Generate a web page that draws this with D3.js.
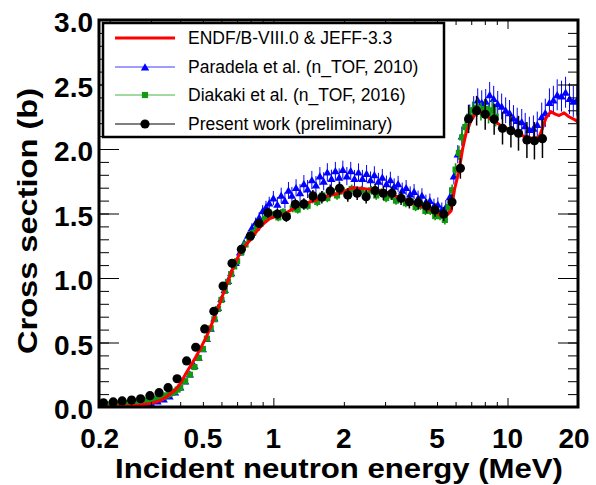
<!DOCTYPE html>
<html>
<head>
<meta charset="utf-8">
<script src="https://cdn.jsdelivr.net/npm/d3@7"></script>
<style>
  body { margin: 0; background: #fff; }
  svg { display: block; font-family: 'Liberation Sans', Arial, Helvetica, sans-serif; }
  .axis path { display: none; }
  .axis line { stroke: #000; stroke-width: 1; }
</style>
</head>
<body>
<div id="chart"></div>
<script>
// evaluated cross section (ENDF/B-VIII.0 & JEFF-3.3)
var evalEnergy = [0.18, 0.2, 0.22, 0.25, 0.27, 0.30, 0.33, 0.35, 0.38, 0.40, 0.426, 0.45, 0.47, 0.49, 0.518,
  0.55, 0.59, 0.62, 0.651, 0.68, 0.718, 0.75, 0.793, 0.83, 0.874, 0.92, 0.964, 1.03, 1.099, 1.17, 1.253,
  1.38, 1.525, 1.7, 1.917, 2.05, 2.2, 2.33, 2.5, 2.75, 3.0, 3.23, 3.5, 3.81, 4.15, 4.49, 4.95, 5.11, 5.28,
  5.46, 5.74, 5.93, 6.22, 6.43, 6.65, 6.98, 7.33, 7.57, 8.0, 8.36, 9.22, 10.17, 11.22, 11.98, 12.6, 13.21,
  13.7, 14.1, 14.6, 15.31, 16.0, 16.61, 17.44, 18.3, 19.24, 20];
var evalXs = [0.0, 0.003, 0.006, 0.01, 0.015, 0.028, 0.05, 0.08, 0.13, 0.18, 0.27, 0.34, 0.40, 0.46, 0.545,
  0.66, 0.80, 0.91, 1.01, 1.10, 1.19, 1.24, 1.29, 1.34, 1.39, 1.43, 1.46, 1.48, 1.49, 1.52, 1.553,
  1.58, 1.605, 1.635, 1.657, 1.68, 1.70, 1.695, 1.69, 1.682, 1.67, 1.643, 1.62, 1.59, 1.565, 1.54, 1.514, 1.49, 1.475,
  1.48, 1.52, 1.68, 1.84, 2.0, 2.12, 2.22, 2.28, 2.29, 2.27, 2.24, 2.19, 2.15, 2.11, 2.095, 2.085, 2.08,
  2.1, 2.16, 2.24, 2.29, 2.27, 2.26, 2.28, 2.25, 2.23, 2.21];

// Paradela et al. (n_TOF, 2010)
var paraEnergy = [0.19, 0.20, 0.21, 0.22, 0.23, 0.24, 0.25, 0.26, 0.28, 0.30, 0.32, 0.34, 0.36, 0.38, 0.40,
  0.42, 0.44, 0.46, 0.48, 0.50, 0.52, 0.54, 0.56, 0.58, 0.60, 0.62, 0.64, 0.66, 0.69, 0.72, 0.75, 0.78,
  0.81, 0.84, 0.87, 0.90, 0.93, 0.96, 1.00, 1.04, 1.08, 1.12, 1.16, 1.20, 1.25, 1.30, 1.35, 1.40, 1.46,
  1.52, 1.58, 1.64, 1.70, 1.77, 1.84, 1.91, 1.98, 2.06, 2.14, 2.22, 2.31, 2.40, 2.50, 2.60, 2.70, 2.81,
  2.92, 3.04, 3.16, 3.28, 3.41, 3.55, 3.69, 3.84, 3.99, 4.15, 4.31, 4.48, 4.66, 4.85, 5.04, 5.24, 5.45,
  5.67, 5.90, 6.13, 6.38, 6.63, 6.90, 7.17, 7.46, 7.76, 8.07, 8.39, 8.73, 9.08, 9.44, 9.82, 10.2, 10.6,
  11.0, 11.5, 11.9, 12.4, 12.9, 13.4, 14.0, 14.5, 15.1, 15.7, 16.3, 17.0, 17.7, 18.4, 19.1, 19.8];
var paraXs = [0.000, 0.002, 0.004, 0.006, 0.008, 0.010, 0.012, 0.015, 0.022, 0.032, 0.046, 0.062, 0.085, 0.115, 0.155,
  0.20, 0.255, 0.32, 0.385, 0.45, 0.53, 0.61, 0.69, 0.77, 0.84, 0.91, 0.98, 1.04, 1.12, 1.20, 1.27, 1.33,
  1.39, 1.43, 1.47, 1.52, 1.55, 1.58, 1.62, 1.57, 1.64, 1.60, 1.68, 1.64, 1.70, 1.66, 1.73, 1.69, 1.76,
  1.72, 1.79, 1.75, 1.82, 1.77, 1.83, 1.78, 1.84, 1.79, 1.83, 1.77, 1.82, 1.77, 1.81, 1.76, 1.80, 1.75,
  1.78, 1.73, 1.76, 1.71, 1.73, 1.68, 1.70, 1.65, 1.67, 1.62, 1.64, 1.59, 1.60, 1.56, 1.57, 1.53, 1.55,
  1.63, 1.79, 1.96, 2.10, 2.18, 2.26, 2.32, 2.38, 2.36, 2.37, 2.42, 2.39, 2.35, 2.33, 2.30, 2.28, 2.24,
  2.22, 2.21, 2.18, 2.15, 2.16, 2.19, 2.25, 2.28, 2.36, 2.38, 2.42, 2.41, 2.44, 2.39, 2.37, 2.38];
var paraErr = [0.004, 0.004, 0.004, 0.004, 0.005, 0.005, 0.005, 0.005, 0.006, 0.006, 0.007, 0.008, 0.008, 0.009, 0.010,
  0.010, 0.012, 0.012, 0.014, 0.015, 0.016, 0.018, 0.018, 0.020, 0.020, 0.022, 0.024, 0.025, 0.026, 0.028, 0.030, 0.032,
  0.035, 0.038, 0.040, 0.045, 0.048, 0.050, 0.055, 0.058, 0.060, 0.062, 0.064, 0.066, 0.066, 0.068, 0.068, 0.070, 0.070,
  0.070, 0.070, 0.070, 0.070, 0.070, 0.070, 0.070, 0.070, 0.070, 0.070, 0.068, 0.068, 0.068, 0.066, 0.066, 0.066, 0.065,
  0.065, 0.064, 0.064, 0.062, 0.062, 0.060, 0.060, 0.060, 0.058, 0.058, 0.056, 0.056, 0.055, 0.055, 0.055, 0.055, 0.055,
  0.060, 0.065, 0.070, 0.075, 0.080, 0.085, 0.090, 0.090, 0.095, 0.095, 0.100, 0.100, 0.100, 0.100, 0.100, 0.100, 0.100,
  0.100, 0.100, 0.100, 0.100, 0.100, 0.100, 0.110, 0.110, 0.110, 0.110, 0.120, 0.120, 0.120, 0.120, 0.120, 0.120];

// Diakaki et al. (n_TOF, 2016)
var diakEnergy = [0.19, 0.20, 0.21, 0.22, 0.23, 0.24, 0.25, 0.26, 0.27, 0.28, 0.29, 0.30, 0.31, 0.32, 0.33,
  0.34, 0.35, 0.36, 0.37, 0.38, 0.39, 0.40, 0.42, 0.44, 0.46, 0.48, 0.50, 0.52, 0.54, 0.56, 0.58, 0.60,
  0.62, 0.64, 0.66, 0.68, 0.70, 0.73, 0.76, 0.79, 0.82, 0.85, 0.88, 0.92, 0.96, 1.00, 1.05, 1.10, 1.15,
  1.21, 1.27, 1.33, 1.40, 1.47, 1.54, 1.62, 1.70, 1.78, 1.87, 1.96, 2.06, 2.16, 2.27, 2.38, 2.50, 2.62,
  2.75, 2.89, 3.03, 3.18, 3.34, 3.50, 3.68, 3.86, 4.05, 4.25, 4.46, 4.68, 4.91, 5.15, 5.40, 5.60, 5.80,
  6.00, 6.20, 6.40, 6.60, 6.85, 7.10, 7.40, 7.70, 8.00, 8.30, 8.60, 8.90];
var diakXs = [0.020, 0.020, 0.020, 0.025, 0.025, 0.030, 0.030, 0.035, 0.040, 0.045, 0.050, 0.055, 0.060, 0.065, 0.070,
  0.080, 0.090, 0.100, 0.110, 0.120, 0.135, 0.150, 0.20, 0.25, 0.31, 0.38, 0.45, 0.53, 0.61, 0.68, 0.76, 0.83,
  0.90, 0.97, 1.03, 1.09, 1.13, 1.20, 1.26, 1.31, 1.35, 1.39, 1.42, 1.46, 1.48, 1.49, 1.47, 1.51, 1.48,
  1.54, 1.53, 1.57, 1.56, 1.61, 1.59, 1.64, 1.62, 1.67, 1.64, 1.68, 1.65, 1.69, 1.66, 1.68, 1.65, 1.68,
  1.64, 1.66, 1.62, 1.64, 1.60, 1.62, 1.58, 1.59, 1.55, 1.56, 1.52, 1.52, 1.48, 1.48, 1.45, 1.55, 1.68,
  1.84, 1.97, 2.09, 2.17, 2.25, 2.30, 2.32, 2.29, 2.31, 2.27, 2.30, 2.25];
var diakErr = [0.006, 0.006, 0.006, 0.006, 0.006, 0.006, 0.006, 0.007, 0.007, 0.007, 0.007, 0.008, 0.008, 0.008, 0.008,
  0.009, 0.009, 0.010, 0.010, 0.010, 0.011, 0.011, 0.012, 0.013, 0.014, 0.015, 0.016, 0.017, 0.018, 0.019, 0.020, 0.020,
  0.021, 0.022, 0.022, 0.023, 0.024, 0.025, 0.026, 0.026, 0.027, 0.028, 0.028, 0.029, 0.030, 0.030, 0.030, 0.030, 0.030,
  0.031, 0.031, 0.032, 0.032, 0.032, 0.033, 0.033, 0.033, 0.034, 0.034, 0.034, 0.034, 0.034, 0.034, 0.034, 0.034, 0.034,
  0.034, 0.034, 0.033, 0.033, 0.033, 0.033, 0.032, 0.032, 0.032, 0.032, 0.032, 0.032, 0.032, 0.033, 0.035, 0.040, 0.045,
  0.050, 0.055, 0.060, 0.062, 0.065, 0.068, 0.070, 0.070, 0.072, 0.072, 0.075, 0.075];

// Present work (preliminary)
var workEnergy = [0.188, 0.207, 0.226, 0.248, 0.271, 0.297, 0.325, 0.355, 0.388, 0.426, 0.466, 0.509, 0.557,
  0.610, 0.666, 0.730, 0.798, 0.868, 0.948, 1.040, 1.136, 1.241, 1.350, 1.475, 1.611, 1.749, 1.917, 2.079,
  2.28, 2.49, 2.72, 2.95, 3.21, 3.51, 3.81, 4.16, 4.51, 4.90, 5.34, 5.79, 6.29, 6.82, 7.38, 8.03, 8.77,
  9.52, 10.34, 11.14, 12.10, 13.03, 14.10];
var workXs = [0.033, 0.039, 0.047, 0.054, 0.064, 0.088, 0.111, 0.150, 0.219, 0.357, 0.463, 0.605, 0.742,
  0.938, 1.114, 1.222, 1.326, 1.424, 1.506, 1.496, 1.475, 1.571, 1.574, 1.636, 1.626, 1.674, 1.695, 1.643,
  1.657, 1.630, 1.677, 1.657, 1.657, 1.618, 1.591, 1.584, 1.558, 1.527, 1.496, 1.589, 1.850, 2.233, 2.297,
  2.269, 2.230, 2.160, 2.142, 2.122, 2.070, 2.064, 2.080];
var workErr = [0.008, 0.008, 0.008, 0.008, 0.009, 0.010, 0.011, 0.012, 0.014, 0.016, 0.018, 0.020, 0.022,
  0.025, 0.028, 0.030, 0.032, 0.035, 0.038, 0.040, 0.040, 0.042, 0.044, 0.046, 0.048, 0.050, 0.050, 0.052,
  0.052, 0.052, 0.052, 0.052, 0.052, 0.052, 0.052, 0.052, 0.052, 0.052, 0.055, 0.060, 0.080, 0.110, 0.115,
  0.120, 0.120, 0.125, 0.130, 0.135, 0.140, 0.145, 0.150];

var xLabelTicks = [0.2, 0.5, 1, 2, 5, 10, 20];
var xMajorTicks = [1, 10];
var xMinorTicks = [0.2, 0.3, 0.4, 0.5, 0.6, 0.7, 0.8, 0.9, 2, 3, 4, 5, 6, 7, 8, 9, 20];
var yMajorTicks = [0, 0.5, 1.0, 1.5, 2.0, 2.5, 3.0];
var yMinorTicks = d3.range(0, 3.01, 0.1);

var legendLabels = ['ENDF/B-VIII.0 & JEFF-3.3', 'Paradela et al. (n_TOF, 2010)',
  'Diakaki et al. (n_TOF, 2016)', 'Present work (preliminary)'];

function zip(e, v, err) {
  return e.map(function(d, i) { return { e: d, v: v[i], err: err ? err[i] : 0 }; });
}

var W = 596, H = 485;
var margin = { top: 20, right: 18, bottom: 78, left: 99 };

var x = d3.scaleLog().domain([0.18, 20]).range([margin.left, W - margin.right]);
var y = d3.scaleLinear().domain([0, 3]).range([H - margin.bottom, margin.top]);

var svg = d3.select('#chart').append('svg')
  .attr('width', W)
  .attr('height', H);

svg.append('defs').append('clipPath')
  .attr('id', 'plotclip')
  .append('rect')
  .attr('x', margin.left)
  .attr('y', margin.top)
  .attr('width', W - margin.left - margin.right)
  .attr('height', H - margin.top - margin.bottom);

var plot = svg.append('g').attr('clip-path', 'url(#plotclip)');

var triangle = d3.symbol().type(d3.symbolTriangle).size(30);
var square = d3.symbol().type(d3.symbolSquare).size(38);

// error bars + markers for one data set
function drawSeries(data, color, barWidth, marker) {
  var g = plot.append('g');
  g.selectAll('line')
    .data(data)
    .enter().append('line')
    .attr('x1', function(d) { return x(d.e); })
    .attr('x2', function(d) { return x(d.e); })
    .attr('y1', function(d) { return y(d.v - d.err); })
    .attr('y2', function(d) { return y(d.v + d.err); })
    .attr('stroke', color)
    .attr('stroke-width', barWidth);
  marker(g.selectAll('.m').data(data).enter());
}

drawSeries(zip(paraEnergy, paraXs, paraErr), '#0000ff', 1, function(sel) {
  sel.append('path')
    .attr('d', triangle)
    .attr('transform', function(d) { return 'translate(' + x(d.e) + ',' + (y(d.v) + 1) + ')'; })
    .attr('fill', '#0000ff');
});

drawSeries(zip(diakEnergy, diakXs, diakErr), '#119911', 1.6, function(sel) {
  sel.append('path')
    .attr('d', square)
    .attr('transform', function(d) { return 'translate(' + x(d.e) + ',' + y(d.v) + ')'; })
    .attr('fill', '#119911');
});

var line = d3.line()
  .x(function(d) { return x(d.e); })
  .y(function(d) { return y(d.v); });

plot.append('path')
  .datum(zip(evalEnergy, evalXs))
  .attr('d', line)
  .attr('fill', 'none')
  .attr('stroke', '#ff0000')
  .attr('stroke-width', 3)
  .attr('stroke-linejoin', 'round');

drawSeries(zip(workEnergy, workXs, workErr), '#000', 1.5, function(sel) {
  sel.append('circle')
    .attr('cx', function(d) { return x(d.e); })
    .attr('cy', function(d) { return y(d.v); })
    .attr('r', 4.6)
    .attr('fill', '#000');
});

// axes: ROOT style ticks pointing inwards on all four sides
var x0 = margin.left, x1 = W - margin.right, y0 = H - margin.bottom, y1 = margin.top;

svg.append('g').attr('class', 'axis').attr('transform', 'translate(0,' + y0 + ')')
  .call(d3.axisBottom(x).tickValues(xMinorTicks).tickSize(-5).tickFormat(''));
svg.append('g').attr('class', 'axis').attr('transform', 'translate(0,' + y0 + ')')
  .call(d3.axisBottom(x).tickValues(xMajorTicks).tickSize(-9).tickFormat(''));
svg.append('g').attr('class', 'axis').attr('transform', 'translate(0,' + y1 + ')')
  .call(d3.axisTop(x).tickValues(xMinorTicks).tickSize(-5).tickFormat(''));
svg.append('g').attr('class', 'axis').attr('transform', 'translate(0,' + y1 + ')')
  .call(d3.axisTop(x).tickValues(xMajorTicks).tickSize(-9).tickFormat(''));

svg.append('g').attr('class', 'axis').attr('transform', 'translate(' + x0 + ',0)')
  .call(d3.axisLeft(y).tickValues(yMinorTicks).tickSize(-10).tickFormat(''));
svg.append('g').attr('class', 'axis').attr('transform', 'translate(' + x0 + ',0)')
  .call(d3.axisLeft(y).tickValues(yMajorTicks).tickSize(-20).tickFormat(''));
svg.append('g').attr('class', 'axis').attr('transform', 'translate(' + x1 + ',0)')
  .call(d3.axisRight(y).tickValues(yMinorTicks).tickSize(-10).tickFormat(''));
svg.append('g').attr('class', 'axis').attr('transform', 'translate(' + x1 + ',0)')
  .call(d3.axisRight(y).tickValues(yMajorTicks).tickSize(-20).tickFormat(''));

svg.append('rect')
  .attr('x', x0).attr('y', y1)
  .attr('width', x1 - x0).attr('height', y0 - y1)
  .attr('fill', 'none')
  .attr('stroke', '#000')
  .attr('stroke-width', 3);

// tick labels
svg.append('g').selectAll('text')
  .data(xLabelTicks)
  .enter().append('text')
  .attr('x', function(d) { return x(d) + (d === 0.2 ? -10 : d === 20 ? -4 : 0); })
  .attr('y', y0 + 41)
  .attr('text-anchor', 'middle')
  .style('font-size', '28px')
  .style('font-weight', 'bold')
  .text(function(d) { return d; });

svg.append('g').selectAll('text')
  .data(yMajorTicks)
  .enter().append('text')
  .attr('x', x0 - 6)
  .attr('y', function(d) { return y(d) + 12; })
  .attr('text-anchor', 'end')
  .style('font-size', '28px')
  .style('font-weight', 'bold')
  .text(function(d) { return d3.format('.1f')(d); });

// axis titles
svg.append('text')
  .attr('x', 563)
  .attr('y', 478)
  .attr('text-anchor', 'end')
  .attr('textLength', 448)
  .attr('lengthAdjust', 'spacingAndGlyphs')
  .style('font-size', '28px')
  .style('font-weight', 'bold')
  .text('Incident neutron energy (MeV)');

svg.append('text')
  .attr('transform', 'translate(37,88) rotate(-90)')
  .attr('text-anchor', 'end')
  .attr('textLength', 266)
  .attr('lengthAdjust', 'spacingAndGlyphs')
  .style('font-size', '28px')
  .style('font-weight', 'bold')
  .text('Cross section (b)');

// legend
var legend = svg.append('g');
legend.append('rect')
  .attr('x', 103).attr('y', 23)
  .attr('width', 341).attr('height', 114)
  .attr('fill', '#fff')
  .attr('stroke', '#000')
  .attr('stroke-width', 2.5);

var rowY = [38, 67, 95, 124];
var rows = legend.selectAll('.row')
  .data(legendLabels)
  .enter().append('g')
  .attr('transform', function(d, i) { return 'translate(0,' + rowY[i] + ')'; });

rows.append('line')
  .attr('x1', 115).attr('x2', 175)
  .attr('stroke', function(d, i) { return ['#ff0000', '#3d3dff', '#44b544', '#000'][i]; })
  .attr('stroke-width', function(d, i) { return i === 0 ? 3 : 1; });

rows.append('text')
  .attr('x', 188)
  .attr('y', 6)
  .style('font-size', '17.5px')
  .text(function(d) { return d; });

legend.append('path').attr('d', triangle).attr('transform', 'translate(145,' + (rowY[1] + 1) + ')').attr('fill', '#0000ff');
legend.append('path').attr('d', square).attr('transform', 'translate(145,' + rowY[2] + ')').attr('fill', '#119911');
legend.append('circle').attr('cx', 145).attr('cy', rowY[3]).attr('r', 4.6).attr('fill', '#000');
</script>
</body>
</html>
